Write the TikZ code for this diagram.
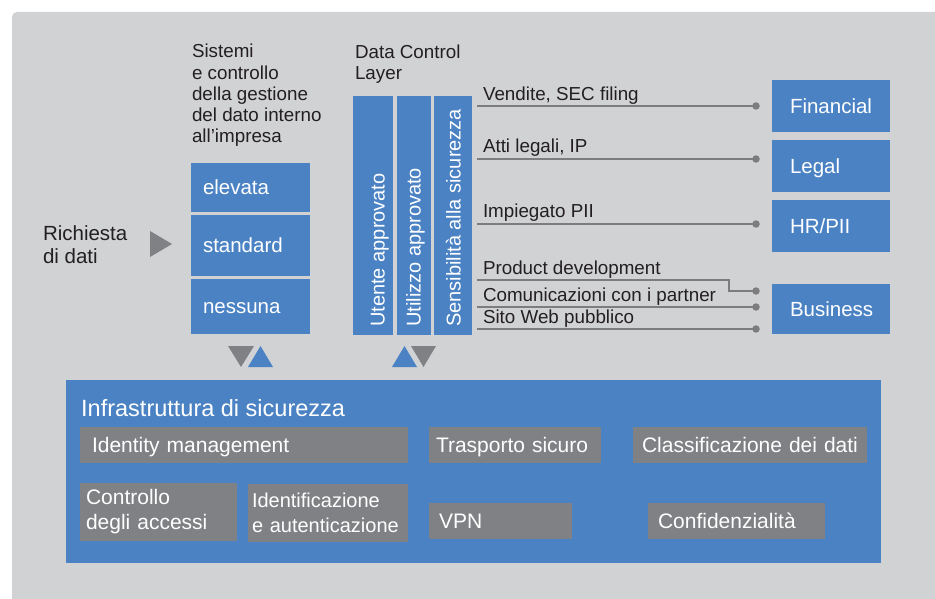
\documentclass[tikz,border=0pt]{standalone}
\usepackage{fontspec}
\setmainfont{Liberation Sans}
\definecolor{bggray}{RGB}{209,210,212}
\definecolor{ibmblue}{RGB}{74,130,196}
\definecolor{boxgray}{RGB}{128,129,132}
\definecolor{linegray}{RGB}{125,125,127}
\definecolor{txt}{RGB}{35,31,32}
\begin{document}
\begin{tikzpicture}[x=1pt,y=-1pt,
  lbl/.style={text=txt, inner sep=0, outer sep=0},
  bodyfont/.style={font=\fontsize{18.8}{21.3}\selectfont},
  bluebox/.style={fill=ibmblue, text=white, inner ysep=0, outer sep=0, anchor=north west, align=left,
     font=\fontsize{20.5}{23}\selectfont, text height=14.8pt, text depth=0pt},
  graybox/.style={fill=boxgray, text=white, inner ysep=0, outer sep=0, anchor=north west, align=left,
     font=\fontsize{21}{25}\selectfont},
  oneline/.style={text height=15.2pt, text depth=0pt},
  colbox/.style={fill=ibmblue, inner sep=0, outer sep=0, anchor=north west},
  rottext/.style={rotate=90, anchor=west, text=white, inner sep=0, font=\fontsize{20}{22}\selectfont,
     text height=14.4pt, text depth=0pt},
  conn/.style={draw=linegray, line width=2.5pt},
  dotnode/.style={circle, fill=linegray, inner sep=0, minimum size=7.5pt}
]
\useasboundingbox (0,0) rectangle (935,599);
\fill[white] (0,0) rectangle (935,599);
\fill[bggray, rounded corners=5pt] (12,12) rectangle (948,612);

% headings (base anchor = last line)
\node[lbl, bodyfont, align=left, anchor=base west] (sist) at (192,143)
  {Sistemi\\e controllo\\della gestione\\del dato interno\\all’impresa};
\node[lbl, bodyfont, align=left, anchor=base west] (dcl) at (355,80) {Data Control\\Layer};
\node[lbl, font=\fontsize{20.5}{23}\selectfont, align=left, anchor=base west] (req) at (43,263) {Richiesta\\di dati};

% request arrow
\fill[boxgray] (150,231) -- (172,244) -- (150,257) -- cycle;

% left stack
\node[bluebox, minimum height=49pt, text width=95pt, inner xsep=12pt] (elev) at (191,163) {elevata};
\node[bluebox, minimum height=61pt, text width=95pt, inner xsep=12pt] (std) at (191,215) {standard};
\node[bluebox, minimum height=55pt, text width=95pt, inner xsep=12pt] (none) at (191,279) {nessuna};

% data control layer columns
\node[colbox, minimum width=40pt, minimum height=239pt] (c1) at (353,96) {};
\node[colbox, minimum width=34pt, minimum height=239pt] (c2) at (397,96) {};
\node[colbox, minimum width=38pt, minimum height=239pt] (c3) at (434,96) {};
\node[rottext] (t1) at (377.5,327) {Utente approvato};
\node[rottext] (t2) at (413.5,327) {Utilizzo approvato};
\node[rottext] (t3) at (453.5,327) {Sensibilità alla sicurezza};

% right boxes
\node[bluebox, minimum height=52pt, text width=82pt, inner xsep=18pt] (fin) at (772,80) {Financial};
\node[bluebox, minimum height=52pt, text width=82pt, inner xsep=18pt] (leg) at (772,140) {Legal};
\node[bluebox, minimum height=52pt, text width=82pt, inner xsep=18pt] (hr) at (772,200) {HR/PII};
\node[bluebox, minimum height=50pt, text width=82pt, inner xsep=18pt] (bus) at (772,284) {Business};

% connectors
\coordinate (s1) at (477,106);
\coordinate (s2) at (477,159);
\coordinate (s3) at (477,224);
\coordinate (s4) at (477,280);
\coordinate (s5) at (477,307);
\coordinate (s6) at (477,329);
\coordinate (k4) at (729,280);
\node[dotnode] (d1) at (756,106) {};
\node[dotnode] (d2) at (756,159) {};
\node[dotnode] (d3) at (756,224) {};
\node[dotnode] (d4) at (756,291) {};
\node[dotnode] (d5) at (756,307) {};
\node[dotnode] (d6) at (756,329) {};
\draw[conn] (s1) -- (d1.center);
\draw[conn] (s2) -- (d2.center);
\draw[conn] (s3) -- (d3.center);
\draw[conn] (s4) -- (k4) |- (d4.center);
\draw[conn] (s5) -- (d5.center);
\draw[conn] (s6) -- (d6.center);

\node[lbl, bodyfont, anchor=base west] (l1) at (483,101) {Vendite, SEC filing};
\node[lbl, bodyfont, anchor=base west] (l2) at (483,153) {Atti legali, IP};
\node[lbl, bodyfont, anchor=base west] (l3) at (483,218) {Impiegato PII};
\node[lbl, bodyfont, anchor=base west] (l4) at (483,274) {Product development};
\node[lbl, bodyfont, anchor=base west] (l5) at (483,301) {Comunicazioni con i partner};
\node[lbl, bodyfont, anchor=base west] (l6) at (483,323) {Sito Web pubblico};

% exchange triangles
\fill[boxgray] (228,346) -- (254,346) -- (241,367) -- cycle;
\fill[ibmblue] (248,367) -- (273,367) -- (260.5,346) -- cycle;
\fill[ibmblue] (392,367) -- (417,367) -- (404.5,346) -- cycle;
\fill[boxgray] (411,346) -- (436,346) -- (423.5,367) -- cycle;

% security infrastructure
\node[fill=ibmblue, inner sep=0, outer sep=0, anchor=north west, minimum width=815pt, minimum height=183pt] (infra) at (66,380) {};
\node[anchor=base west, inner sep=0, text=white, font=\fontsize{23.5}{26}\selectfont] (infratitle) at (81,416) {Infrastruttura di sicurezza};

\node[graybox, oneline, minimum height=36pt, text width=304pt, inner xsep=12pt] (idm) at (80,427) {Identity management};
\node[graybox, oneline, minimum height=36pt, text width=158pt, inner xsep=7pt] (tra) at (429,427) {Trasporto sicuro};
\node[graybox, oneline, minimum height=36pt, text width=216pt, inner xsep=9pt] (cls) at (633,427) {Classificazione dei dati};
\node[graybox, minimum height=58pt, text width=145pt, inner xsep=6pt] (acc) at (80,483) {Controllo\\degli accessi};
\node[graybox, minimum height=58pt, text width=152pt, inner xsep=4pt, font=\fontsize{20}{25}\selectfont] (ida) at (248,484) {Identificazione\\e\ autenticazione};
\node[graybox, oneline, minimum height=36pt, text width=123pt, inner xsep=10pt] (vpn) at (429,503) {VPN};
\node[graybox, oneline, minimum height=36pt, text width=157pt, inner xsep=10pt] (conf) at (648,503) {Confidenzialità};
\end{tikzpicture}
\end{document}
